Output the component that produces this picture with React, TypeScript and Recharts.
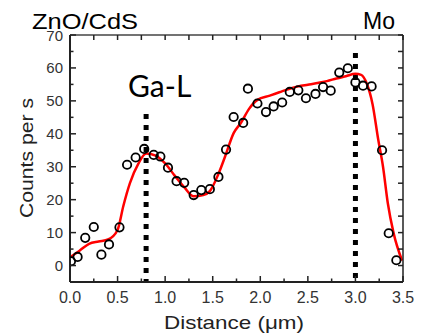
import { ComposedChart, Line, ReferenceLine, Scatter, XAxis, YAxis } from "recharts";

const distance = [0.01, 0.08, 0.16, 0.25, 0.33, 0.41, 0.52, 0.6, 0.69, 0.78, 0.88, 0.95, 1.03, 1.12, 1.2, 1.3, 1.38, 1.47, 1.56, 1.64, 1.72, 1.82, 1.87, 1.97, 2.06, 2.14, 2.23, 2.31, 2.4, 2.48, 2.58, 2.66, 2.74, 2.83, 2.92, 3.0, 3.08, 3.17, 3.28, 3.35, 3.43];
const counts = [1.3, 2.6, 8.4, 11.7, 3.3, 6.4, 11.6, 30.6, 32.8, 35.4, 33.6, 33.1, 29.7, 25.6, 25.1, 21.4, 22.9, 23.2, 26.9, 35.2, 45.1, 43.3, 53.7, 49.2, 46.6, 48.3, 49.5, 52.7, 53.2, 50.8, 52.1, 54.2, 53.1, 58.6, 59.9, 55.6, 54.6, 54.4, 35.0, 9.8, 1.6];

const fitDistance = [0.0, 0.1, 0.2, 0.3, 0.4, 0.5, 0.56, 0.63, 0.72, 0.8, 0.9, 1.0, 1.1, 1.2, 1.3, 1.4, 1.47, 1.56, 1.63, 1.72, 1.8, 1.88, 1.97, 2.1, 2.2, 2.3, 2.4, 2.5, 2.6, 2.7, 2.8, 2.9, 3.0, 3.06, 3.12, 3.18, 3.24, 3.29, 3.34, 3.4, 3.49];
const fitCounts = [2.5, 4.5, 6.6, 7.3, 7.9, 10.8, 18, 25, 31, 34, 33.4, 31, 27.3, 23.8, 21, 21.4, 22.6, 27.8, 33.1, 40.2, 43.5, 47.5, 50.3, 51.6, 52.6, 53.6, 54.4, 54.9, 55.4, 56, 56.8, 57.5, 58.2, 57.9, 55.2, 49, 38.2, 30, 19, 10, 1.5];

const xTicks = [0, 0.25, 0.5, 0.75, 1, 1.25, 1.5, 1.75, 2, 2.25, 2.5, 2.75, 3, 3.25, 3.5];
const yTicks = [0, 5, 10, 15, 20, 25, 30, 35, 40, 45, 50, 55, 60, 65, 70];

const markers = [
  { name: "Ga-L", x: 0.8, top: 46 },
  { name: "Mo", x: 3.0, top: 64.5 },
];

const points = distance.map((x, i) => ({ x, y: counts[i] }));
const fit = fitDistance.map((x, i) => ({ x, y: fitCounts[i] }));

const font = "'Liberation Sans', Arial, sans-serif";
const axisColor = "#222";

const isMajorX = (v: number) => Math.abs(v * 2 - Math.round(v * 2)) < 1e-6;
const isMajorY = (v: number) => v % 10 === 0;

function BottomTick({ x, y, payload }: any) {
  const major = isMajorX(payload.value);
  return (
    <g>
      <line x1={x} y1={y} x2={x} y2={y - (major ? 6 : 3.5)} stroke={axisColor} strokeWidth={1.5} />
      {major && (
        <text x={x} y={y + 21} textAnchor="middle" fontFamily={font} fontSize={16} fill="#333">
          {payload.value.toFixed(1)}
        </text>
      )}
    </g>
  );
}

function TopTick({ x, y }: any) {
  return <line x1={x} y1={y} x2={x} y2={y + 5} stroke={axisColor} strokeWidth={1.5} />;
}

function LeftTick({ x, y, payload }: any) {
  const major = isMajorY(payload.value);
  return (
    <g>
      <line x1={x} y1={y} x2={x + (major ? 6 : 3.5)} y2={y} stroke={axisColor} strokeWidth={1.5} />
      {major && (
        <text x={x - 7} y={y + 5.5} textAnchor="end" fontFamily={font} fontSize={15} fill="#333">
          {payload.value}
        </text>
      )}
    </g>
  );
}

function RightTick({ x, y }: any) {
  return <line x1={x} y1={y} x2={x - 5} y2={y} stroke={axisColor} strokeWidth={1.5} />;
}

function OpenCircle({ cx, cy }: any) {
  return <circle cx={cx} cy={cy} r={4.2} fill="none" stroke="#000" strokeWidth={1.8} />;
}

export default function App() {
  return (
    <div style={{ position: "absolute", left: 0, top: 0, width: 430, height: 336, background: "#fff" }}>
      <ComposedChart width={430} height={336} margin={{ top: 34, right: 26, bottom: 0, left: 0 }}>
        <XAxis
          dataKey="x"
          type="number"
          domain={[0, 3.5]}
          ticks={xTicks}
          interval={0}
          height={54}
          tickSize={0}
          tickMargin={0}
          tickLine={false}
          tick={<BottomTick />}
          axisLine={{ stroke: axisColor, strokeWidth: 2 }}
          allowDataOverflow
        />
        <XAxis
          xAxisId="top"
          orientation="top"
          dataKey="x"
          type="number"
          domain={[0, 3.5]}
          ticks={xTicks}
          interval={0}
          height={1}
          tickSize={0}
          tickMargin={0}
          tickLine={false}
          tick={<TopTick />}
          axisLine={{ stroke: "#444", strokeWidth: 1.5 }}
          allowDataOverflow
        />
        <YAxis
          dataKey="y"
          type="number"
          domain={[-5, 70]}
          ticks={yTicks}
          interval={0}
          width={70}
          tickSize={0}
          tickMargin={0}
          tickLine={false}
          tick={<LeftTick />}
          axisLine={{ stroke: axisColor, strokeWidth: 2 }}
          allowDataOverflow
        />
        <YAxis
          yAxisId="right"
          orientation="right"
          dataKey="y"
          type="number"
          domain={[-5, 70]}
          ticks={yTicks}
          interval={0}
          width={1}
          tickSize={0}
          tickMargin={0}
          tickLine={false}
          tick={<RightTick />}
          axisLine={{ stroke: axisColor, strokeWidth: 1.5 }}
          allowDataOverflow
        />
        {markers.map((m) => (
          <ReferenceLine
            key={m.name}
            segment={[{ x: m.x, y: m.top }, { x: m.x, y: -5 }]}
            stroke="#000"
            strokeWidth={5}
            strokeDasharray="5 6"
          />
        ))}
        <Scatter data={points} dataKey="y" shape={<OpenCircle />} isAnimationActive={false} />
        <Line
          data={fit}
          dataKey="y"
          xAxisId="top"
          yAxisId="right"
          type="monotone"
          stroke="#ff0000"
          strokeWidth={2.5}
          dot={false}
          activeDot={false}
          isAnimationActive={false}
        />
      </ComposedChart>
      <svg width={430} height={336} style={{ position: "absolute", left: 0, top: 0, pointerEvents: "none" }}>
        <text x={32} y={29} fontFamily={font} fontSize={22} textLength={106} lengthAdjust="spacingAndGlyphs" fill="#000">
          ZnO/CdS
        </text>
        <text x={363} y={29} fontFamily={font} fontSize={23} fill="#000">
          Mo
        </text>
        <text x={128} y={97} fontFamily="Lato, 'Open Sans', sans-serif" fontSize={30} fill="#000">
          Ga-L
        </text>
        <text
          transform="translate(33,158) rotate(-90)"
          textAnchor="middle"
          fontFamily={font}
          fontSize={19}
          textLength={120}
          lengthAdjust="spacingAndGlyphs"
          fill="#222"
        >
          Counts per s
        </text>
        <text
          x={234}
          y={329}
          textAnchor="middle"
          fontFamily={font}
          fontSize={19}
          textLength={140}
          lengthAdjust="spacingAndGlyphs"
          fill="#222"
        >
          Distance (μm)
        </text>
      </svg>
    </div>
  );
}
